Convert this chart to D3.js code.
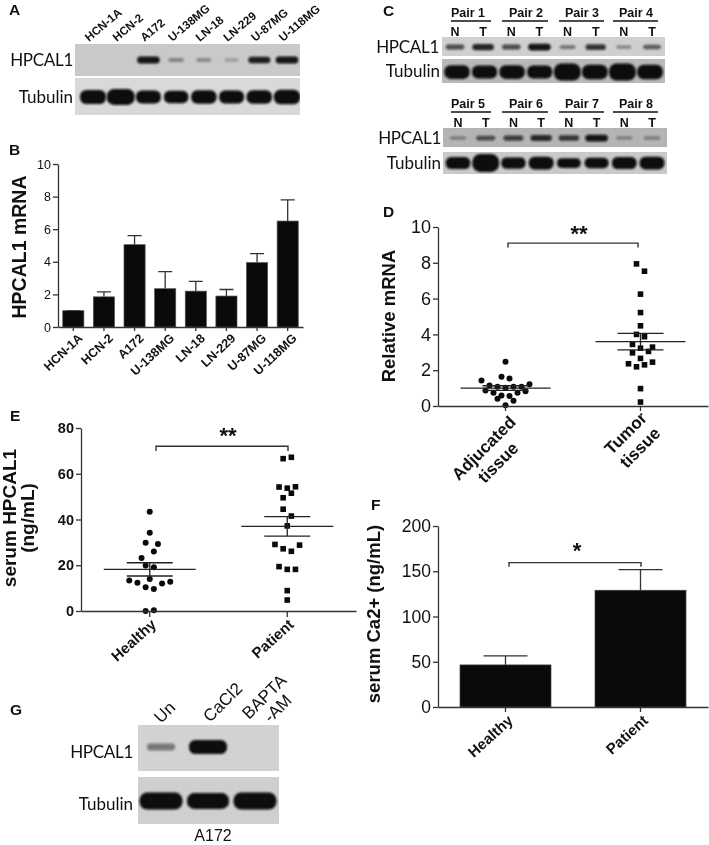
<!DOCTYPE html>
<html><head><meta charset="utf-8">
<script src="https://cdnjs.cloudflare.com/ajax/libs/d3/7.8.5/d3.min.js"></script>
<style>
html,body{margin:0;padding:0;background:#fff}
svg{display:block;filter:blur(0.35px)}
text{font-family:"Liberation Sans",Arial,sans-serif;fill:#111}
.axis path,.axis line{stroke:#333;stroke-width:1.3px}
.blotlabel{font-family:Lato,"Noto Sans",sans-serif;fill:#111}
</style></head><body>
<svg id="fig" width="709" height="845"></svg>
<script>
// ---------- data ----------
const cellLines = ["HCN-1A","HCN-2","A172","U-138MG","LN-18","LN-229","U-87MG","U-118MG"];
const blotAHpcal = [0,0,0.95,0.3,0.25,0.15,0.9,0.95];
const blotATubulin = [0.8,1,0.7,0.65,0.75,0.7,0.75,0.85];
const mrnaMeans = [1.0,1.85,5.05,2.35,2.2,1.9,3.95,6.5];
const mrnaUpper = [1.0,2.15,5.6,3.4,2.8,2.3,4.5,7.8];

const pairsTop = ["Pair 1","Pair 2","Pair 3","Pair 4"];
const pairsBottom = ["Pair 5","Pair 6","Pair 7","Pair 8"];
const pairLanes = ["N","T"];
const blotC1Hpcal = [0.6,0.85,0.6,0.95,0.35,0.75,0.25,0.5];
const blotC1Tubulin = [0.75,0.7,0.75,0.7,1,0.8,1,0.8];
const blotC2Hpcal = [0.22,0.55,0.65,0.8,0.7,0.95,0.2,0.22];
const blotC2Tubulin = [0.6,1,0.55,0.65,0.45,0.5,0.6,0.65];

const tissueGroups = ["Adjucated tissue","Tumor tissue"];
const adjValues = [2.47,1.43,1.64,1.54,1.15,1.08,1.02,1.08,1.08,1.21,0.87,0.74,0.59,0.56,0.74,0.82,0.41,0.30,0.04];
const adjSlots  = [0,-3,-0.5,0.5,-2,-1,0,1,2,3,-2.5,-1.5,-0.5,0.5,1.5,2.5,-1,1,0];
const tumorValues = [7.94,7.53,6.25,5.22,4.48,4.0,3.87,3.44,3.23,3.29,2.97,3.05,2.66,2.36,2.30,2.45,2.19,0.97,0.22];
const tumorSlots  = [-0.5,0.5,0,0,0,-0.5,0.5,-1,0,1.5,-1,1,0,-1.5,0.5,1.5,-0.5,0,0];
const tissueMeans = [1.0,3.6];
const tissueSem = [0.13,0.46];

const serumGroups = ["Healthy","Patient"];
const healthyValues = [43.4,34.2,29.8,29.3,26.0,23.2,19.9,19.1,14.0,13.3,12.3,12.0,12.8,10.4,9.6,0,0.3];
const healthySlots  = [0,0,-0.5,1,0.5,-1,-0.5,0.5,0,-2.5,-1.5,1.5,2.5,-0.5,0.5,-0.5,0.5];
const patientValues = [66.6,67.2,54.2,53.7,54.3,51.5,49.5,44.5,41.5,37.2,29.1,27.2,26.1,28.8,19.4,18.2,18.2,8.9,4.8];
const patientSlots  = [-0.5,0.5,-1,0,1,0.5,-0.5,-0.5,0.5,0,-1.5,-0.5,0.5,1.5,-1,0,1,0,0];
const serumMeans = [18.2,37];
const serumSem = [2.9,4.3];

const caMeans = [46.5,129];
const caUpper = [56.4,151.7];

const treatments = ["Un","CaCl2","BAPTA-AM"];
const blotGHpcal = [0.45,1,0];
const blotGTubulin = [1,0.85,1];

// ---------- helpers ----------
const svg = d3.select("#fig");
const defs = svg.append("defs");
defs.append("filter").attr("id","soft").attr("x","-20%").attr("y","-60%").attr("width","140%").attr("height","220%")
  .append("feGaussianBlur").attr("stdDeviation",1.1);

function panelLetter(t,x,y){
  svg.append("text").attr("x",x).attr("y",y).text(t)
    .style("font-weight","bold").style("font-size","15.5px");
}
function blot(x0,x1,y0,y1,bg,laneScale,vals,cy,opts){
  svg.append("rect").attr("x",x0).attr("y",y0).attr("width",x1-x0).attr("height",y1-y0).attr("fill",bg);
  const w = d3.scaleLinear().domain([0,1]).range(opts.w);
  const h = d3.scaleLinear().domain([0,1]).range(opts.h);
  const o = d3.scaleLinear().domain([0,1]).range(opts.o);
  const clipId = "c"+x0+"_"+y0;
  defs.append("clipPath").attr("id",clipId).append("rect")
    .attr("x",x0).attr("y",y0).attr("width",x1-x0).attr("height",y1-y0);
  svg.append("g").attr("clip-path",`url(#${clipId})`).selectAll("rect").data(vals).join("rect")
    .attr("x",(d,i)=>laneScale(i)-w(d)/2).attr("width",d=>w(d))
    .attr("y",d=>cy-h(d)/2).attr("height",d=>h(d))
    .attr("rx",d=>h(d)/2.2).attr("ry",d=>h(d)/2.2)
    .attr("fill","#0a0a0a").attr("opacity",d=>d===0?0:o(d)).attr("filter","url(#soft)");
}
function blotLabel(t,xEnd,cy,size,ls){
  svg.append("text").attr("class","blotlabel").attr("x",xEnd).attr("y",cy).attr("dy","0.36em")
    .attr("text-anchor","end").style("font-size",size+"px").style("letter-spacing",ls+"px").text(t);
}
function yTitle(lines,x,cy,size){
  lines.forEach((t,i)=>{
    svg.append("text").attr("transform",`translate(${x[i]},${cy}) rotate(-90)`)
      .attr("text-anchor","middle").style("font-weight","bold").style("font-size",size+"px").text(t);
  });
}
function styledYAxis(g,scale,ticks,fs,weight){
  g.attr("class","axis").call(d3.axisLeft(scale).tickValues(ticks).tickSize(5).tickSizeOuter(0));
  g.selectAll("text").style("font-size",fs+"px").style("font-weight",weight).attr("x",-7);
}
function sigBracket(x1,x2,yTop,yFoot,starX,starY,stars,size){
  svg.append("path").attr("d",`M${x1},${yFoot}V${yTop}H${x2}V${yFoot}`)
    .attr("fill","none").attr("stroke","#333").attr("stroke-width",1.4);
  svg.append("text").attr("x",starX).attr("y",starY).attr("text-anchor","middle")
    .style("font-size",size+"px").style("font-weight","bold").text(stars);
}
function meanSem(x,y,cats,means,sem,wide,cap){
  const g = svg.append("g").attr("stroke","#222").attr("stroke-width",1.3);
  cats.forEach((c,i)=>{
    const cx = x(c);
    g.append("line").attr("x1",cx-wide).attr("x2",cx+wide).attr("y1",y(means[i])).attr("y2",y(means[i]));
    g.append("line").attr("x1",cx-cap).attr("x2",cx+cap).attr("y1",y(means[i]+sem[i])).attr("y2",y(means[i]+sem[i]));
    g.append("line").attr("x1",cx-cap).attr("x2",cx+cap).attr("y1",y(means[i]-sem[i])).attr("y2",y(means[i]-sem[i]));
    g.append("line").attr("x1",cx).attr("x2",cx).attr("y1",y(means[i]+sem[i])).attr("y2",y(means[i]-sem[i]));
  });
}
function dots(cx,y,vals,slots,step,r){
  svg.append("g").selectAll("circle").data(vals).join("circle")
    .attr("cx",(d,i)=>cx+slots[i]*step).attr("cy",d=>y(d)).attr("r",r).attr("fill","#0a0a0a");
}
function squares(cx,y,vals,slots,step,s){
  svg.append("g").selectAll("rect").data(vals).join("rect")
    .attr("x",(d,i)=>cx+slots[i]*step-s/2).attr("y",d=>y(d)-s/2)
    .attr("width",s).attr("height",s).attr("fill","#0a0a0a");
}

// ---------- panel A ----------
panelLetter("A",9,15);
const laneA = d3.scalePoint().domain(d3.range(8)).range([93,287]);
blot(75,300,44,76,"#c9c9c9",laneA,blotAHpcal,60,{w:[12,23],h:[3,7],o:[0.1,1]});
blot(75,300,78,115,"#d9d9d9",laneA,blotATubulin,97,{w:[18,28],h:[6,16],o:[1,1]});
blotLabel("HPCAL1",73,60,17,-0.3);
blotLabel("Tubulin",73,97,17,0);
svg.append("g").selectAll("text").data(cellLines).join("text")
  .attr("transform",(d,i)=>`translate(${laneA(i)-4},42) rotate(-40)`)
  .style("font-weight","bold").style("font-size","11.6px").text(d=>d);

// ---------- panel B ----------
panelLetter("B",9,155);
const xB = d3.scaleBand().domain(cellLines).range([58,303]).paddingInner(0.31).paddingOuter(0.155);
const yB = d3.scaleLinear().domain([0,10]).range([327,164]);
svg.append("g").selectAll("path").data(mrnaUpper).join("path")
  .attr("d",(d,i)=>{const c=xB(cellLines[i])+xB.bandwidth()/2;return `M${c-7},${yB(d)}H${c+7}M${c},${yB(d)}V${yB(mrnaMeans[i])}`;})
  .attr("stroke","#333").attr("stroke-width",1.3).attr("fill","none");
svg.append("g").selectAll("rect").data(mrnaMeans).join("rect")
  .attr("x",(d,i)=>xB(cellLines[i])).attr("width",xB.bandwidth())
  .attr("y",d=>yB(d)).attr("height",d=>yB(0)-yB(d))
  .attr("fill","#0a0a0a").attr("stroke","#555").attr("stroke-width",0.7);
styledYAxis(svg.append("g").attr("transform","translate(58,0)"),yB,[0,2,4,6,8,10],12.5,"normal");
const axB = svg.append("g").attr("class","axis").attr("transform","translate(0,327)")
  .call(d3.axisBottom(xB).tickSize(4).tickSizeOuter(0));
axB.selectAll("text").attr("y",0).attr("x",0).attr("dy","0.35em").attr("text-anchor","end")
  .attr("transform","translate(7,9) rotate(-43)").style("font-size","12.5px").style("font-weight","bold");
yTitle(["HPCAL1 mRNA"],[26],247,19.5);

// ---------- panel C ----------
panelLetter("C",383,16);
const laneC = d3.scalePoint().domain(d3.range(8)).range([455,652]);
const laneC2 = d3.scalePoint().domain(d3.range(8)).range([458,652]);
const laneCT = d3.scalePoint().domain(d3.range(8)).range([457,650]);
blot(442,665,37,56,"#cfcfcf",laneC,blotC1Hpcal,47,{w:[12,23],h:[2,7],o:[0.2,1]});
blot(442,665,59,83,"#b9b9b9",laneCT,blotC1Tubulin,72,{w:[21,27],h:[4,17],o:[1,1]});
blot(443,667,128,147,"#b4b4b4",laneC2,blotC2Hpcal,138,{w:[14,23],h:[2,7],o:[0.2,1]});
blot(443,667,152,174,"#c9c9c9",laneC2,blotC2Tubulin,163,{w:[21,27],h:[3,18],o:[1,1]});
blotLabel("HPCAL1",439,47,17,-0.3);
blotLabel("Tubulin",440,71,17,0);
blotLabel("HPCAL1",441,138,17,-0.3);
blotLabel("Tubulin",441,163,17,0);
function pairHeader(names,baseY,laneScale){
  const textX = [468,526,582,636], lineL = [451,502,559,613], lineR = [491,548,604,658];
  names.forEach((p,i)=>{
    svg.append("text").attr("x",textX[i]).attr("y",baseY).attr("text-anchor","middle")
      .style("font-weight","bold").style("font-size","12.5px").text(p);
    svg.append("line").attr("x1",lineL[i]).attr("x2",lineR[i]).attr("y1",baseY+4).attr("y2",baseY+4)
      .attr("stroke","#111").attr("stroke-width",1.3);
    pairLanes.forEach((l,j)=>{
      svg.append("text").attr("x",laneScale(i*2+j)).attr("y",baseY+19).attr("text-anchor","middle")
        .style("font-weight","bold").style("font-size","12.5px").text(l);
    });
  });
}
pairHeader(pairsTop,17,laneC);
pairHeader(pairsBottom,108,laneC2);

// ---------- panel D ----------
panelLetter("D",383,217);
const xD = d3.scaleBand().domain(tissueGroups).range([438,708]);
const yD = d3.scaleLinear().domain([0,10]).range([406,227]);
const cD = c => xD(c)+xD.bandwidth()/2;
dots(cD(tissueGroups[0]),yD,adjValues,adjSlots,8,3);
squares(cD(tissueGroups[1]),yD,tumorValues,tumorSlots,8,5.6);
meanSem(cD,yD,tissueGroups,tissueMeans,tissueSem,45,23);
styledYAxis(svg.append("g").attr("transform","translate(438,0)"),yD,[0,2,4,6,8,10],18,"normal");
const axD = svg.append("g").attr("class","axis").attr("transform","translate(0,406)")
  .call(d3.axisBottom(xD).tickSize(5).tickSizeOuter(0));
axD.selectAll("text").remove();
[[tissueGroups[0],["Adjucated","tissue"],-22,42],[tissueGroups[1],["Tumor","tissue"],-15,27]].forEach(([c,lines,dx,dy])=>{
  const t = svg.append("text").attr("transform",`translate(${cD(c)+dx},${406+dy}) rotate(-45)`)
    .attr("text-anchor","middle").style("font-weight","bold").style("font-size","17px");
  lines.forEach((l,i)=>t.append("tspan").attr("x",0).attr("dy",i?"1.2em":"0.35em").text(l));
});
yTitle(["Relative mRNA"],[394.5],316,18.5);
sigBracket(508,638,yD(9.1),yD(8.85),579,241,"**",22);

// ---------- panel E ----------
panelLetter("E",10,421);
const xE = d3.scaleBand().domain(serumGroups).range([81,356]);
const yE = d3.scaleLinear().domain([0,80]).range([611,428]);
const cE = c => xE(c)+xE.bandwidth()/2;
dots(cE(serumGroups[0]),yE,healthyValues,healthySlots,8.2,3);
squares(cE(serumGroups[1]),yE,patientValues,patientSlots,8.2,5.6);
meanSem(cE,yE,serumGroups,serumMeans,serumSem,46,23);
styledYAxis(svg.append("g").attr("transform","translate(81,0)"),yE,[0,20,40,60,80],14.5,"bold");
const axE = svg.append("g").attr("class","axis").attr("transform","translate(0,611)")
  .call(d3.axisBottom(xE).tickSize(6).tickSizeOuter(0));
axE.selectAll("text").attr("y",0).attr("x",0).attr("dy","0.35em").attr("text-anchor","end")
  .attr("transform","translate(4,11) rotate(-42)").style("font-size","15px").style("font-weight","bold");
yTitle(["serum HPCAL1","(ng/mL)"],[16,34],518,19);
sigBracket(156,288,yE(72),yE(70),228,443,"**",22);

// ---------- panel F ----------
panelLetter("F",371,510);
const xF = d3.scaleBand().domain(serumGroups).range([438,708]).paddingInner(0.326).paddingOuter(0.163);
const yF = d3.scaleLinear().domain([0,200]).range([707,526]);
const cF = c => xF(c)+xF.bandwidth()/2;
svg.append("g").selectAll("path").data(caUpper).join("path")
  .attr("d",(d,i)=>{const c=cF(serumGroups[i]);return `M${c-22},${yF(d)}H${c+22}M${c},${yF(d)}V${yF(caMeans[i])}`;})
  .attr("stroke","#333").attr("stroke-width",1.3).attr("fill","none");
svg.append("g").selectAll("rect").data(caMeans).join("rect")
  .attr("x",(d,i)=>xF(serumGroups[i])).attr("width",xF.bandwidth())
  .attr("y",d=>yF(d)).attr("height",d=>yF(0)-yF(d))
  .attr("fill","#0a0a0a").attr("stroke","#444").attr("stroke-width",0.7);
styledYAxis(svg.append("g").attr("transform","translate(438,0)"),yF,[0,50,100,150,200],17.5,"normal");
const axF = svg.append("g").attr("class","axis").attr("transform","translate(0,707)")
  .call(d3.axisBottom(xF).tickSize(5).tickSizeOuter(0));
axF.selectAll("text").attr("y",0).attr("x",0).attr("dy","0.35em").attr("text-anchor","end")
  .attr("transform","translate(5,11) rotate(-42)").style("font-size","15px").style("font-weight","bold");
yTitle(["serum Ca2+ (ng/mL)"],[380],614,18.5);
sigBracket(509,641,yF(159.5),yF(155),577,558,"*",22);

// ---------- panel G ----------
panelLetter("G",10,715);
const laneG = d3.scalePoint().domain(d3.range(3)).range([161,255]);
blot(138,279,725,771,"#d2d2d2",laneG,blotGHpcal,747,{w:[20,38],h:[1,14],o:[0,1]});
blot(138,279,777,824,"#cfcfcf",laneG,blotGTubulin,801,{w:[36,43],h:[10,17],o:[1,1]});
blotLabel("HPCAL1",133,752,17,-0.3);
blotLabel("Tubulin",133,804,17,0);
const gLabels = [["Un"],["CaCl2"],["BAPTA","-AM"]];
gLabels.forEach((lines,i)=>{
  const tx = [161,210,249][i], ty=[724,723,720][i];
  const t = svg.append("text").attr("transform",`translate(${tx},${ty}) rotate(-45)`)
    .style("font-size","17px");
  lines.forEach((l,j)=>t.append("tspan").attr("x",j?13:0).attr("dy",j?"1.05em":0).text(l));
});
svg.append("text").attr("x",213).attr("y",841).attr("text-anchor","middle").style("font-size","16px").text("A172");
</script>
</body></html>
